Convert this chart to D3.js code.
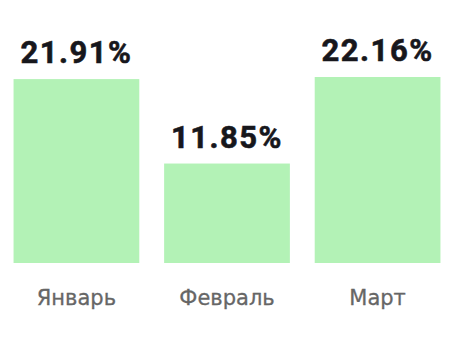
<!DOCTYPE html>
<html><head><meta charset="utf-8">
<script src="https://cdn.jsdelivr.net/npm/d3@7"></script>
<style>body{margin:0;background:#fff}</style>
</head><body>
<svg id="c" width="458" height="352"></svg>
<script>
const categories = ["Январь", "Февраль", "Март"];
const values = [21.91, 11.85, 22.16];

const svg = d3.select("#c");
const x = d3.scaleBand().domain(categories).range([0, 454]).paddingInner(0.165).paddingOuter(0.09);
const y = d3.scaleLinear().domain([0, 22.16]).range([263, 77]);

svg.selectAll("rect").data(values).join("rect")
  .attr("x", (d, i) => x(categories[i]))
  .attr("width", x.bandwidth())
  .attr("y", d => y(d))
  .attr("height", d => y(0) - y(d))
  .attr("fill", "#b3f2b6");

svg.selectAll("text.v").data(values).join("text").attr("class", "v")
  .attr("x", (d, i) => x(categories[i]) + x.bandwidth() / 2)
  .attr("y", d => y(d) - 16)
  .attr("text-anchor", "middle")
  .attr("font-family", "Roboto")
  .attr("font-weight", "bold")
  .attr("font-size", 31)
  .attr("letter-spacing", 1.5)
  .attr("fill", "#17171c")
  .attr("stroke", "#17171c")
  .attr("stroke-width", 0.6)
  .text(d => d.toFixed(2) + "%");

const ax = svg.append("g").attr("transform", "translate(0,263)")
  .call(d3.axisBottom(x).tickSize(0).tickPadding(27));
ax.select(".domain").remove();
ax.selectAll("text").attr("font-family", "DejaVu Sans").attr("font-size", 21)
  .attr("fill", "#666").attr("stroke", "#666").attr("stroke-width", 0.3);
</script>
</body></html>
